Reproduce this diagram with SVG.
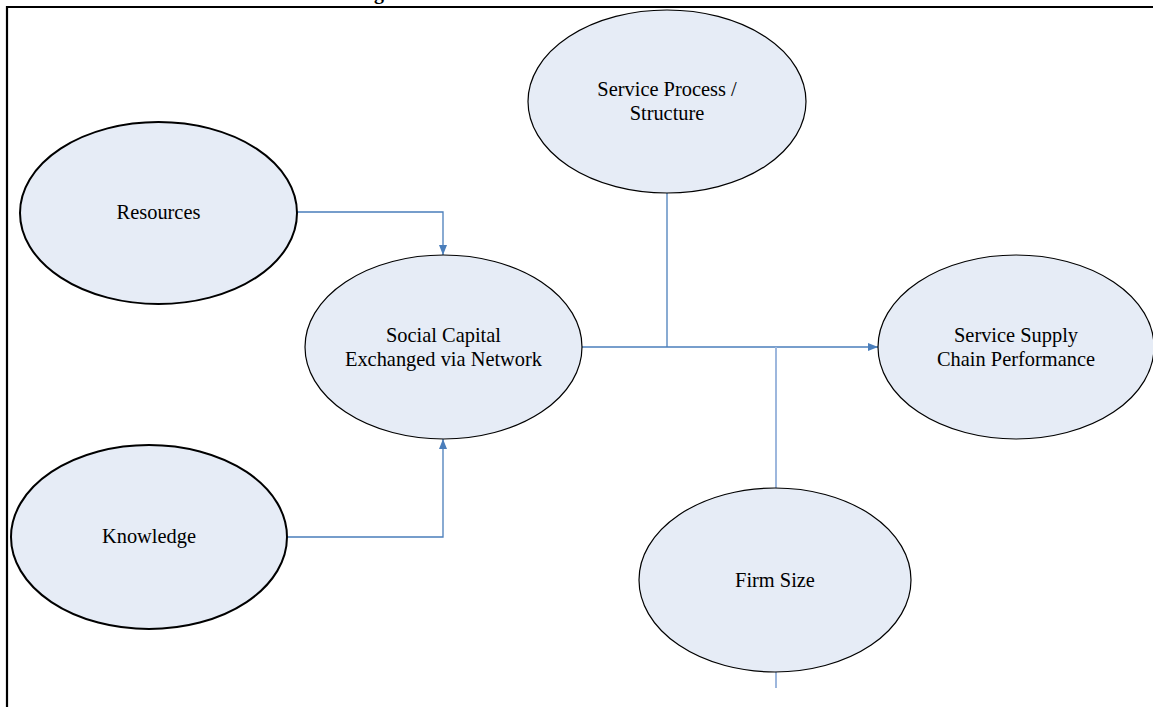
<svg xmlns="http://www.w3.org/2000/svg" width="1153" height="707" viewBox="0 0 1153 707">
<style>
.n{fill:#E6ECF6;stroke:#000;stroke-width:1.2}
.nb{fill:#E6ECF6;stroke:#000;stroke-width:2}
.t{font-family:"Liberation Serif","Times New Roman",serif;font-size:20.4px;fill:#000;text-anchor:middle}
.c{fill:none;stroke:#4A7EBB;stroke-width:1.3}
.cl{fill:none;stroke:#9DB7DD;stroke-width:2}
</style>
<defs>
<marker id="ah" markerWidth="10" markerHeight="8" refX="10" refY="4" orient="auto" markerUnits="userSpaceOnUse">
<path d="M0,0 L10,4 L0,8 z" fill="#4A7EBB"/>
</marker>
</defs>
<rect width="1153" height="707" fill="#fff"/>
<text x="374" y="-1" style="font-family:'Liberation Serif',serif;font-size:20px;font-weight:bold">g</text>
<path d="M7,712 L7,7 L1160,7" fill="none" stroke="#000" stroke-width="2.2"/>
<g id="connectors">
<path class="c" d="M297,212 H443 V255" marker-end="url(#ah)"/>
<path class="c" d="M287,537 H443 V439" marker-end="url(#ah)"/>
<path class="c" d="M582,347 H878" marker-end="url(#ah)"/>
<path class="c" d="M667,193 V347"/>
<path class="cl" d="M776,347 V488"/>
<path class="cl" d="M776,672 V688"/>
</g>
<g id="resources">
<ellipse class="nb" cx="158.5" cy="213" rx="138.5" ry="91"/>
<text class="t" x="158.5" y="219">Resources</text>
</g>
<g id="knowledge">
<ellipse class="nb" cx="149" cy="537" rx="138" ry="92"/>
<text class="t" x="149" y="543">Knowledge</text>
</g>
<g id="social-capital">
<ellipse class="n" cx="443.5" cy="347" rx="138.5" ry="92"/>
<text class="t" x="443.5" y="342">Social Capital</text>
<text class="t" x="443.5" y="366">Exchanged via Network</text>
</g>
<g id="service-process">
<ellipse class="n" cx="667" cy="101.5" rx="139" ry="91.5"/>
<text class="t" x="667" y="96">Service Process /</text>
<text class="t" x="667" y="120">Structure</text>
</g>
<g id="performance">
<ellipse class="n" cx="1016" cy="347" rx="138" ry="92"/>
<text class="t" x="1016" y="342">Service Supply</text>
<text class="t" x="1016" y="366">Chain Performance</text>
</g>
<g id="firm-size">
<ellipse class="n" cx="775" cy="580" rx="136" ry="92"/>
<text class="t" x="775" y="587">Firm Size</text>
</g>
</svg>
